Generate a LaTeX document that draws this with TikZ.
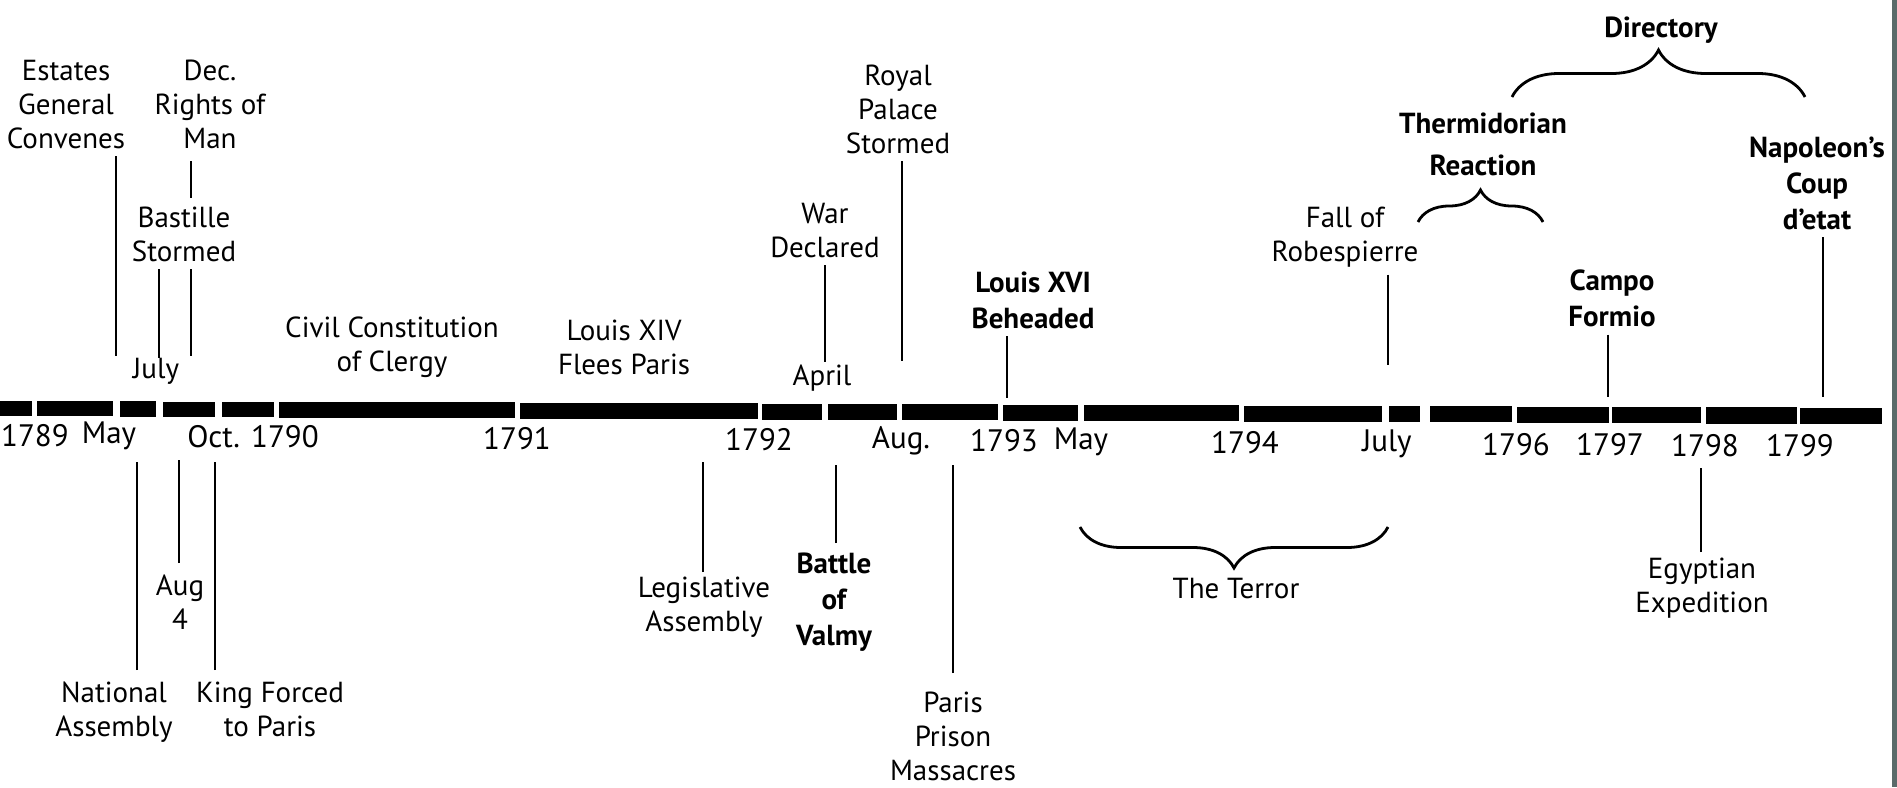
\documentclass[tikz,border=0pt]{standalone}
\usepackage{fontspec}
\setmainfont{PT Sans}
\usetikzlibrary{decorations.pathreplacing}
\definecolor{edgegray}{HTML}{5A6B6A}

\begin{document}
\begin{tikzpicture}[x=1pt, y=-1pt,
    lbl/.style={inner sep=0pt, align=center, anchor=north, font=\fontsize{29}{34}\selectfont},
    blbl/.style={lbl, font=\fontsize{29}{36}\selectfont\bfseries},
    yr/.style={inner sep=0pt, font=\fontsize{31}{34}\selectfont},
    tick/.style={line width=2.5pt, shorten <=7pt},
    brc/.style={line width=2.8pt, decorate}]
    \useasboundingbox (0,0) rectangle (1897,787);
    \fill[white] (0,0) rectangle (1897,787);
    \fill[edgegray] (1891.5,0) rectangle (1897,787);

    \foreach \a/\b in {0/32, 37/113, 120/156, 163/215, 222/274, 279/515, 520/758, 762/822, 828/897, 902/998,
        1003/1078, 1084/1239, 1244/1382, 1389/1420, 1430/1512, 1517/1609, 1612/1701, 1706/1797, 1800/1882}
        \fill (\a,{401+\a*0.00372}) rectangle (\b,{416+\b*0.00425});

    \foreach \x/\t/\n in {35/1789/y1789, 109/May/ymay, 253/Oct. 1790/yoct, 517/1791/y1791, 759/1792/y1792,
        901/Aug./yaug, 1004/1793/y1793, 1081/May/ymay2, 1245/1794/y1794, 1387/July/yjuly,
        1516/1796/y1796, 1610/1797/y1797, 1705/1798/y1798, 1800/1799/y1799}
        \node[yr] (\n) at (\x,{435+\x*0.00611}) {\t};

    \node[lbl] (estates) at (66,60) {Estates\\General\\Convenes};
    \node[lbl] (rights) at (210,60) {Dec.\\Rights of\\Man};
    \node[lbl] (bastille) at (184,207) {Bastille\\Stormed};
    \node[lbl] (july) at (156,358) {July};
    \node[lbl] (civil) at (392,317) {Civil Constitution\\of Clergy};
    \node[lbl] (flees) at (624,320) {Louis XIV\\Flees Paris};
    \node[lbl] (war) at (825,203) {War\\Declared};
    \node[lbl] (april) at (822,365) {April};
    \node[lbl] (palace) at (898,65) {Royal\\Palace\\Stormed};
    \node[blbl] (louis) at (1033,272) {Louis XVI\\Beheaded};
    \node[lbl] (robes) at (1345,207) {Fall of\\Robespierre};
    \node[blbl, font=\fontsize{29}{42}\selectfont\bfseries] (thermi) at (1483,113) {Thermidorian\\Reaction};
    \node[blbl] (direct) at (1661,17) {Directory};
    \node[blbl] (campo) at (1612,270) {Campo\\Formio};
    \node[blbl] (napol) at (1817,137) {Napoleon's\\Coup\\d'etat};

    \node[lbl] (natass) at (114,682) {National\\Assembly};
    \node[lbl] (aug) at (180,575) {Aug\\4};
    \node[lbl] (king) at (270,682) {King Forced\\to Paris};
    \node[lbl] (legis) at (704,577) {Legislative\\Assembly};
    \node[blbl] (valmy) at (834,553) {Battle\\of\\Valmy};
    \node[lbl] (prison) at (953,692) {Paris\\Prison\\Massacres};
    \node[lbl] (terror) at (1236,578) {The Terror};
    \node[lbl] (egypt) at (1702,558) {Egyptian\\Expedition};

    \coordinate (cest) at (116,356);
    \coordinate (crig) at (191,356);
    \coordinate (cbas) at (159,358);
    \coordinate (cwar) at (825,362);
    \coordinate (cpal) at (902,361);
    \coordinate (clou) at (1007,398);
    \coordinate (crob) at (1388,365);
    \coordinate (ccam) at (1608,397);
    \coordinate (cnap) at (1823,397);
    \coordinate (cnat) at (137,462);
    \coordinate (caug) at (179,460);
    \coordinate (ckin) at (215,462);
    \coordinate (cleg) at (703,462);
    \coordinate (cval) at (836,465);
    \coordinate (cpri) at (953,465);
    \coordinate (cegy) at (1701,468);

    \draw[tick] (estates.south -| cest) -- (cest);
    \draw[tick, shorten <=12pt, shorten >=9pt] (rights.south -| crig) -- (bastille.north -| crig);
    \draw[tick] (bastille.south -| crig) -- (crig);
    \draw[tick] (bastille.south -| cbas) -- (cbas);
    \draw[tick] (war.south -| cwar) -- (cwar);
    \draw[tick] (palace.south -| cpal) -- (cpal);
    \draw[tick] (louis.south -| clou) -- (clou);
    \draw[tick] (robes.south -| crob) -- (crob);
    \draw[tick] (campo.south -| ccam) -- (ccam);
    \draw[tick] (napol.south -| cnap) -- (cnap);

    \draw[tick, shorten <=12pt] (natass.north -| cnat) -- (cnat);
    \draw[tick, shorten <=12pt] (aug.north -| caug) -- (caug);
    \draw[tick, shorten <=12pt] (king.north -| ckin) -- (ckin);
    \draw[tick, shorten <=5pt] (legis.north -| cleg) -- (cleg);
    \draw[tick, shorten <=10pt] (valmy.north -| cval) -- (cval);
    \draw[tick, shorten <=19pt] (prison.north -| cpri) -- (cpri);
    \draw[tick, shorten <=6pt] (egypt.north -| cegy) -- (cegy);

    \coordinate (dirl) at (1512,97);
    \coordinate (dirr) at (1805,97);
    \coordinate (thl) at (1418,222);
    \coordinate (thr) at (1543,222);
    \coordinate (tel) at (1080,527);
    \coordinate (ter) at (1388,527);
    \draw[brc, decoration={brace, amplitude=47pt}] (dirl) -- (dirr);
    \draw[brc, decoration={brace, amplitude=32pt}] (thl) -- (thr);
    \draw[brc, decoration={brace, mirror, amplitude=41pt}] (tel) -- (ter);
\end{tikzpicture}
\end{document}
